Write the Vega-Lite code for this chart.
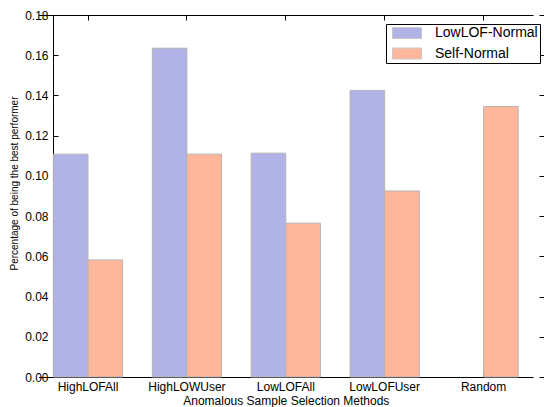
{
  "$schema": "https://vega.github.io/schema/vega-lite/v6.json",
  "autosize": {"type": "none"},
  "padding": {"left": 53, "top": 15, "right": 0, "bottom": 30},
  "width": 491,
  "height": 362,
  "background": "white",
  "config": {
    "view": {"stroke": null},
    "font": "Liberation Sans",
    "axis": {
      "domainColor": "#000000",
      "tickColor": "#000000",
      "labelColor": "#000000",
      "titleColor": "#000000",
      "labelFont": "Liberation Sans",
      "titleFont": "Liberation Sans",
      "labelFontSize": 12,
      "titleFontWeight": "normal",
      "grid": false,
      "tickSize": -5,
      "zindex": 1
    }
  },
  "data": {
    "values": [
      {"method": "HighLOFAll", "series": "LowLOF-Normal", "value": 0.1108},
      {"method": "HighLOFAll", "series": "Self-Normal", "value": 0.0582},
      {"method": "HighLOWUser", "series": "LowLOF-Normal", "value": 0.1635},
      {"method": "HighLOWUser", "series": "Self-Normal", "value": 0.1108},
      {"method": "LowLOFAll", "series": "LowLOF-Normal", "value": 0.1113},
      {"method": "LowLOFAll", "series": "Self-Normal", "value": 0.0765},
      {"method": "LowLOFUser", "series": "LowLOF-Normal", "value": 0.1425},
      {"method": "LowLOFUser", "series": "Self-Normal", "value": 0.0925},
      {"method": "Random", "series": "Self-Normal", "value": 0.1345}
    ]
  },
  "layer": [
    {
      "mark": {"type": "bar", "stroke": "#b4b4b4", "strokeWidth": 1},
      "encoding": {
        "x": {
          "field": "method",
          "type": "nominal",
          "sort": ["HighLOFAll", "HighLOWUser", "LowLOFAll", "LowLOFUser", "Random"],
          "scale": {"type": "band", "paddingInner": 0, "paddingOuter": 0, "range": [-14.45, 480.05]},
          "axis": {
            "orient": "bottom",
            "labelAngle": 0,
            "labelPadding": 9,
            "labelFontSize": 12,
            "title": "Anomalous Sample Selection Methods",
            "titleFontSize": 12,
            "titlePadding": 3
          }
        },
        "xOffset": {
          "field": "series",
          "type": "nominal",
          "sort": ["LowLOF-Normal", "Self-Normal"],
          "scale": {"domain": ["LowLOF-Normal", "Self-Normal"], "paddingInner": 0, "paddingOuter": 0.429}
        },
        "y": {
          "field": "value",
          "type": "quantitative",
          "scale": {"domain": [0, 0.18], "nice": false, "zero": true},
          "axis": {
            "orient": "left",
            "values": [0, 0.02, 0.04, 0.06, 0.08, 0.1, 0.12, 0.14, 0.16, 0.18],
            "format": ".2f",
            "labelPadding": 10,
            "title": "Percentage of being the best performer",
            "titleFontSize": 10,
            "titleX": -34,
            "titleY": 168,
            "titleAngle": -90,
            "titleAlign": "center",
            "titleBaseline": "bottom"
          }
        },
        "color": {
          "field": "series",
          "type": "nominal",
          "sort": ["LowLOF-Normal", "Self-Normal"],
          "scale": {"domain": ["LowLOF-Normal", "Self-Normal"], "range": ["#b1b3e6", "#ffb69b"]},
          "legend": {
            "title": null,
            "orient": "none",
            "legendX": 333,
            "legendY": 9,
            "direction": "vertical",
            "strokeColor": "#000000",
            "fillColor": "#ffffff",
            "padding": 2,
            "labelFont": "Liberation Sans",
            "labelFontSize": 14,
            "labelColor": "#000000",
            "labelExpr": "datum.label + '\u00a0\u00a0\u00a0'",
            "symbolType": "M-0.455,-1H4.818V1H-0.455Z",
            "symbolSize": 121,
            "symbolStrokeColor": "#c8c8c8",
            "symbolStrokeWidth": 1,
            "symbolOpacity": 1,
            "labelOffset": 33,
            "rowPadding": 4.5
          }
        }
      }
    },
    {
      "mark": {"type": "bar", "opacity": 0},
      "encoding": {
        "x": {
          "field": "method",
          "type": "nominal",
          "sort": ["HighLOFAll", "HighLOWUser", "LowLOFAll", "LowLOFUser", "Random"],
          "axis": {"orient": "top", "labels": false, "title": null}
        },
        "xOffset": {
          "field": "series",
          "type": "nominal",
          "sort": ["LowLOF-Normal", "Self-Normal"]
        },
        "y": {
          "field": "value",
          "type": "quantitative",
          "axis": {
            "orient": "right",
            "values": [0, 0.02, 0.04, 0.06, 0.08, 0.1, 0.12, 0.14, 0.16, 0.18],
            "labels": false,
            "title": null
          }
        }
      }
    }
  ],
  "resolve": {"axis": {"x": "independent", "y": "independent"}}
}
